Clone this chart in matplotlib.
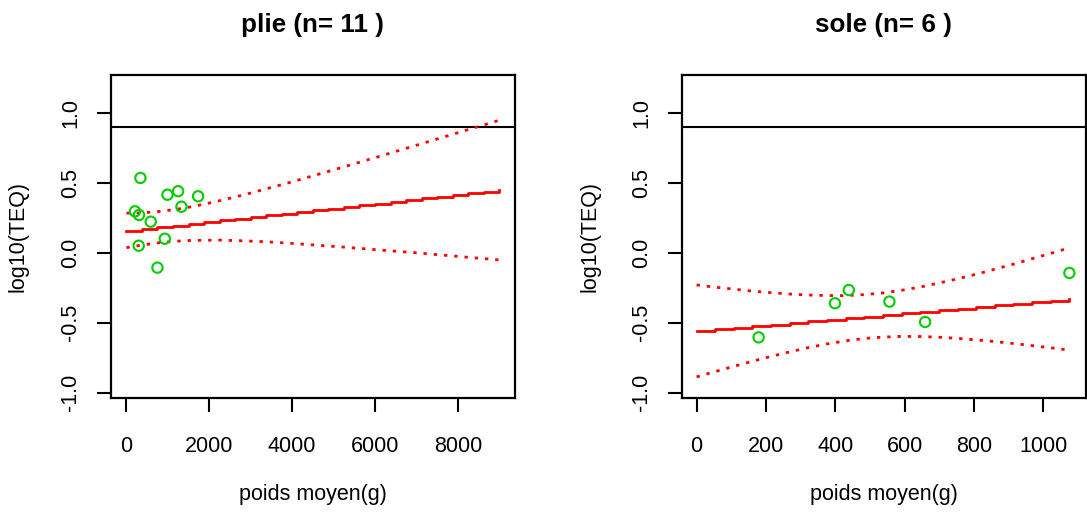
import matplotlib
matplotlib.use("Agg")
import matplotlib.pyplot as plt

plt.rcParams['font.family'] = ['Liberation Sans', 'DejaVu Sans']

# plie: observations
plie_x = [338, 991, 1248, 1731, 1329, 208, 305, 587, 926, 297, 749]
plie_y = [0.537, 0.417, 0.442, 0.406, 0.331, 0.298, 0.272, 0.224, 0.102, 0.052, -0.105]

# plie: fitted line and confidence band
plie_grid = [0, 375, 750, 1125, 1500, 1875, 2250, 2625, 3000, 3375, 3750, 4125, 4500,
             4875, 5250, 5625, 6000, 6375, 6750, 7125, 7500, 7875, 8250, 8625, 9000]
plie_fit = [0.160, 0.172, 0.184, 0.196, 0.208, 0.220, 0.233, 0.245, 0.257, 0.269, 0.281,
            0.293, 0.305, 0.317, 0.329, 0.341, 0.353, 0.365, 0.378, 0.390, 0.402, 0.414,
            0.426, 0.438, 0.450]
plie_up = [0.285, 0.287, 0.296, 0.309, 0.327, 0.349, 0.374, 0.401, 0.429, 0.459, 0.489,
           0.520, 0.552, 0.584, 0.616, 0.649, 0.682, 0.715, 0.749, 0.782, 0.816, 0.849,
           0.883, 0.916, 0.950]
plie_lo = [0.038, 0.057, 0.072, 0.083, 0.089, 0.091, 0.092, 0.089, 0.085, 0.080, 0.073,
           0.066, 0.058, 0.050, 0.042, 0.033, 0.024, 0.015, 0.007, -0.002, -0.012, -0.021,
           -0.031, -0.040, -0.050]

# sole: observations
sole_x = [179, 399, 439, 556, 659, 1075]
sole_y = [-0.604, -0.360, -0.265, -0.348, -0.494, -0.143]

# sole: fitted line and confidence band
sole_grid = [0, 53.75, 107.5, 161.25, 215, 268.75, 322.5, 376.25, 430, 483.75, 537.5,
             591.25, 645, 698.75, 752.5, 806.25, 860, 913.75, 967.5, 1021.25, 1075]
sole_fit = [-0.558, -0.547, -0.535, -0.524, -0.512, -0.501, -0.489, -0.478, -0.467, -0.455,
            -0.444, -0.432, -0.421, -0.409, -0.398, -0.387, -0.375, -0.364, -0.352, -0.341,
            -0.329]
sole_up = [-0.229, -0.245, -0.259, -0.273, -0.284, -0.294, -0.301, -0.305, -0.305, -0.298,
           -0.286, -0.267, -0.244, -0.215, -0.185, -0.152, -0.116, -0.080, -0.041, -0.003,
           0.037]
sole_lo = [-0.887, -0.849, -0.811, -0.775, -0.740, -0.708, -0.677, -0.651, -0.629, -0.612,
           -0.602, -0.597, -0.598, -0.603, -0.611, -0.622, -0.634, -0.648, -0.663, -0.679,
           -0.695]

threshold = 0.9

panels = [
    dict(title="plie (n= 11 )", x=plie_x, y=plie_y, grid=plie_grid, fit=plie_fit,
         up=plie_up, lo=plie_lo, xlim=(-380, 9380), xticks=[0, 2000, 4000, 6000, 8000],
         rect=[0.1018, 0.2322, 0.372, 0.6236]),
    dict(title="sole (n= 6 )", x=sole_x, y=sole_y, grid=sole_grid, fit=sole_fit,
         up=sole_up, lo=sole_lo, xlim=(-43, 1122), xticks=[0, 200, 400, 600, 800, 1000],
         rect=[0.6271, 0.2322, 0.3717, 0.6236]),
]

fig = plt.figure(figsize=(10.87, 5.18), dpi=100)

for p in panels:
    ax = fig.add_axes(p['rect'])
    ax.axhline(threshold, color='black', lw=1.5)
    ax.step(p['grid'], p['fit'], where='post', color='red', lw=2)
    ax.plot(p['grid'], p['up'], color='red', lw=2, linestyle=(0, (1.2, 2.5)))
    ax.plot(p['grid'], p['lo'], color='red', lw=2, linestyle=(0, (1.2, 2.5)))
    ax.scatter(p['x'], p['y'], s=55, facecolors='none', edgecolors='#00CD00', linewidths=1.5,
               zorder=3)
    ax.set_xlim(*p['xlim'])
    ax.set_ylim(-1.036, 1.276)
    ax.set_xticks(p['xticks'])
    ax.set_yticks([-1.0, -0.5, 0.0, 0.5, 1.0])
    ax.set_yticklabels(['-1.0', '-0.5', '0.0', '0.5', '1.0'], rotation=90, va='center')
    ax.tick_params(axis='x', length=10, width=1.5, pad=17.5, labelsize=15.5)
    ax.tick_params(axis='y', length=10, width=1.5, pad=11, labelsize=15.5)
    for s in ax.spines.values():
        s.set_linewidth(1.6)
    ax.text(0.5, 1.155, p['title'], transform=ax.transAxes, ha='center', va='center',
            fontsize=18.7, fontweight='bold')
    ax.text(0.5, -0.30, "poids moyen(g)", transform=ax.transAxes, ha='center', va='center',
            fontsize=15.5)
    ax.text(-0.228, 0.5, "log10(TEQ)", transform=ax.transAxes, ha='center', va='center',
            rotation=90, fontsize=15.5)

fig.savefig("out.png", dpi=100)
